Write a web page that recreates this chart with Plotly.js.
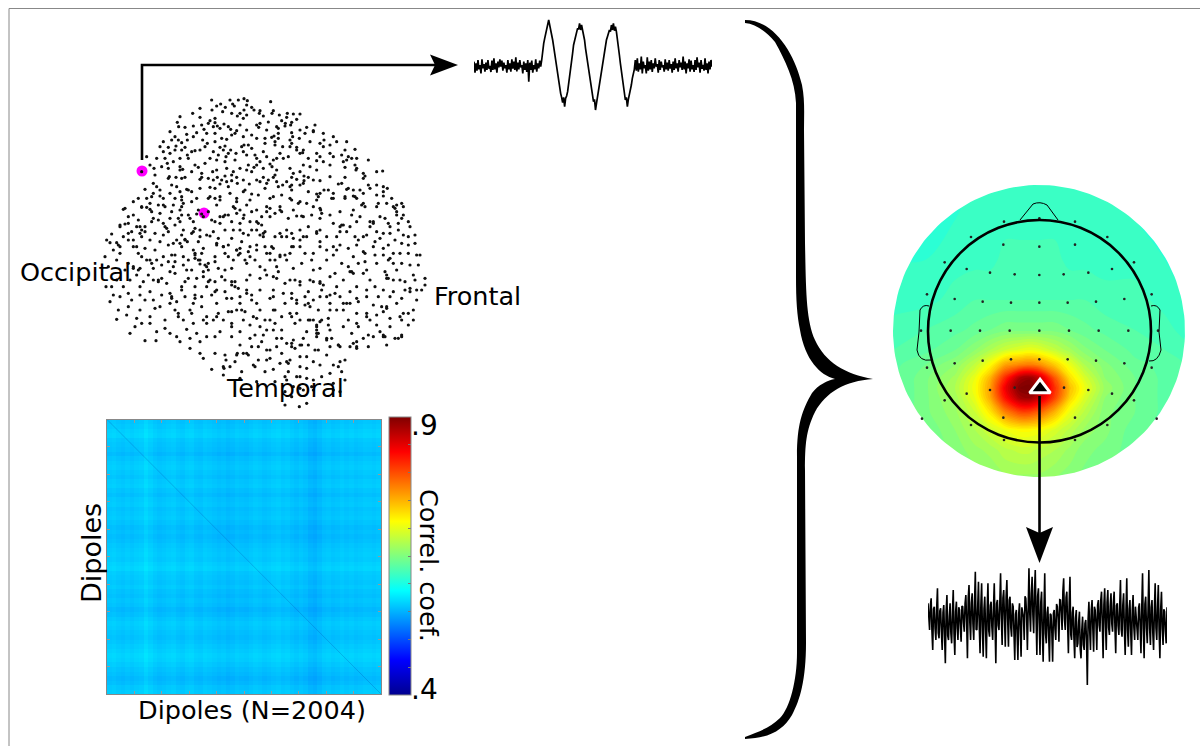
<!DOCTYPE html>
<html><head><meta charset="utf-8">
<script src="https://cdn.plot.ly/plotly-3.0.1.min.js"></script>
<style>html,body{margin:0;padding:0;background:#fff}#c{width:1200px;height:746px}</style>
</head><body><div id="c"></div>
<script>
const dipolePairs = [335,30,415,30,432,26,442,32,512,35,362,42,398,42,403,48,300,55,336,60,368,65,440,45,462,60,480,62,516,70,538,75,562,70,580,72,600,72,278,70,240,80,232,97,300,82,330,92,345,98,420,70,440,75,430,85,470,105,480,100,505,96,530,110,556,100,575,97,645,105,236,110,305,105,340,110,360,115,385,110,410,122,440,120,500,120,535,115,535,130,600,120,640,125,670,130,210,125,260,133,290,128,320,130,345,130,405,130,430,140,470,145,495,145,525,155,570,150,578,140,615,130,700,140,740,155,190,155,215,150,235,150,262,150,280,140,308,150,345,155,365,145,380,148,425,170,445,165,495,160,525,165,570,170,610,180,650,190,670,170,690,165,735,180,765,178,190,185,225,180,245,180,275,185,300,180,340,185,370,180,385,190,430,185,465,195,490,185,540,190,590,180,600,190,650,212,670,215,725,195,745,200,805,210,140,200,170,205,195,205,220,215,240,205,265,205,285,225,315,220,350,210,375,215,405,210,445,225,470,225,510,222,550,205,565,200,610,225,630,230,690,225,730,215,765,225,790,250,830,245,848,243,125,245,162,235,205,235,240,240,255,262,305,250,350,240,380,235,420,235,455,245,490,235,530,240,570,235,600,245,650,240,735,262,770,235,790,265,165,255,205,265,245,265,300,268,340,270,365,270,395,255,430,270,480,275,520,262,560,275,610,280,640,270,715,282,745,295,805,285,850,290,862,295,135,298,160,280,180,300,230,290,265,300,300,295,345,295,385,290,435,300,495,295,535,290,575,300,600,285,660,310,700,310,760,300,810,295,830,315,155,320,190,325,210,310,245,320,275,335,330,320,360,320,410,325,450,330,510,325,570,325,620,340,650,330,695,325,735,320,765,320,850,318,890,345,905,340,75,355,100,335,125,350,150,340,190,345,215,365,245,350,295,360,350,345,400,350,420,360,470,360,500,365,540,350,600,335,660,355,720,365,760,360,785,345,835,340,880,350,70,358,100,375,155,365,210,385,265,375,325,365,375,375,430,385,450,395,500,350,545,365,590,378,635,375,725,405,780,380,810,395,840,380,890,375,910,375,35,432,60,410,85,400,120,410,160,385,195,410,240,395,280,395,310,380,360,400,395,395,420,400,475,400,510,380,565,385,610,380,660,385,700,400,750,410,820,395,870,410,930,410,95,425,135,425,165,430,205,425,245,435,280,425,320,435,355,445,400,420,445,435,490,430,540,430,575,430,620,440,650,425,710,440,765,440,800,435,850,430,885,450,945,435,30,458,55,465,85,450,125,440,180,455,220,460,255,450,295,455,350,465,385,465,425,455,470,465,515,470,560,440,600,470,660,455,720,465,775,450,825,455,905,460,945,460,40,480,100,470,135,475,165,480,215,495,245,470,285,490,310,475,370,470,410,480,445,485,500,490,540,495,575,470,615,490,680,480,745,475,795,490,850,475,880,490,925,490,15,500,60,490,125,500,150,510,190,500,225,515,265,510,300,510,345,515,385,500,420,490,465,510,510,510,560,510,635,510,680,510,700,495,760,500,830,520,870,505,950,495,18,590,100,530,120,535,160,535,185,525,220,530,285,505,320,530,375,540,440,520,495,540,530,530,580,535,640,540,705,550,750,545,800,540,855,545,905,520,955,525,75,540,110,555,145,555,175,570,225,550,260,540,310,560,365,560,405,575,450,555,500,555,530,565,570,570,600,585,660,580,690,560,755,545,810,570,860,565,900,570,940,555,975,565,35,590,70,590,120,590,150,605,185,615,215,620,245,600,285,590,325,575,350,600,395,585,440,610,480,600,520,600,575,610,625,605,665,600,705,610,750,605,800,600,850,600,880,605,930,605,965,600,30,635,60,620,95,630,135,630,160,630,210,640,255,620,280,640,335,615,380,625,420,620,455,630,510,625,555,640,590,630,640,630,680,620,740,640,770,625,820,645,860,650,905,625,950,630,55,660,80,675,120,660,150,680,195,690,235,670,275,670,310,690,350,680,395,665,435,665,470,685,520,660,570,670,615,645,655,660,665,690,710,660,770,670,800,680,850,665,900,680,940,660,50,688,105,710,125,700,150,700,195,715,210,730,260,718,290,730,320,700,395,710,430,690,480,710,525,700,545,720,585,700,625,690,650,730,685,705,730,710,775,710,830,705,870,710,925,705,90,730,135,752,168,752,240,755,270,745,320,740,345,740,395,740,450,745,490,735,530,745,580,750,610,745,650,720,680,745,720,770,755,730,790,745,820,740,850,740,905,740,270,775,300,790,345,790,375,795,412,790,455,770,500,780,530,770,575,770,600,765,645,780,690,770,715,765,770,770,805,770,860,765,885,745,310,805,378,810,440,790,475,810,510,805,560,815,600,800,660,825,700,825,735,810,335,838,372,835,425,845,465,830,520,838,565,845,620,835,720,815,370,855,420,865,470,875,560,870,590,860,620,865,665,860,725,845,735,870,555,905,600,895,635,890,700,880,720,905,555,945,598,950,620,940,575,920];
// Second reading pass, filling the denser clumps
const dipolePairsDense = [350,48,376,52,395,70,412,78,432,60,478,70,520,62,560,82,345,85,325,100,352,108,372,102,392,118,420,105,476,112,555,108,572,105,535,145,522,138,575,128,598,145,640,122,672,150,225,140,245,158,228,168,255,172,285,182,315,170,322,160,360,172,375,168,378,200,355,195,392,180,432,165,440,195,455,175,470,205,500,200,520,210,575,160,590,172,608,188,660,200,690,190,740,210,755,205,210,190,202,220,240,230,248,238,208,260,295,232,305,262,338,245,352,262,375,258,400,245,410,262,440,240,462,232,490,262,516,230,525,255,580,250,590,268,575,262,612,258,625,262,735,232,768,240,795,258,170,290,215,285,240,305,260,298,275,305,330,292,360,282,395,272,412,280,470,270,500,280,530,275,575,285,612,272,650,312,672,300,700,325,740,298,760,318,780,300,850,305,160,310,180,318,245,330,250,340,325,325,345,325,360,330,430,305,410,335,455,312,520,320,570,290,575,330,595,340,655,320,662,360,735,325,770,325,795,350,860,340,890,365,125,352,140,352,150,358,175,345,195,350,220,345,240,360,290,372,305,372,370,380,385,375,405,355,440,345,510,355,540,360,605,378,665,370,755,375,790,340,830,350,885,355,910,350,60,405,75,402,120,430,135,410,155,395,175,390,200,415,245,375,270,385,285,415,300,420,345,395,360,380,410,370,432,375,470,395,485,405,495,425,480,435,490,440,610,440,650,430,720,410,730,405,810,410,820,400,865,400,895,400,905,385,85,430,100,450,125,420,190,400,225,405,250,420,275,430,300,440,330,438,375,420,420,420,430,430,455,420,470,420,545,440,580,445,625,410,660,420,720,425,790,440,840,445,870,430,910,435,50,458,60,470,110,470,205,465,240,460,255,448,262,455,280,480,305,490,350,460,370,470,420,475,470,480,495,470,520,475,600,450,660,470,700,470,710,480,770,465,820,470,865,465,925,465,100,535,115,540,140,510,155,520,225,495,250,500,285,495,295,510,300,522,315,525,325,540,345,500,375,490,400,510,410,480,415,495,435,510,450,500,510,490,540,500,555,495,580,470,640,490,790,485,795,515,850,495,865,510,880,520,900,490,960,495,160,570,175,575,185,565,210,545,265,565,275,540,290,565,310,545,325,520,330,570,320,590,375,570,395,575,405,590,415,595,520,560,535,545,585,570,600,575,630,570,660,575,670,585,710,590,745,530,760,550,790,550,860,555,865,565,880,570,915,575,945,570,210,610,215,625,245,590,285,615,270,660,285,625,345,605,375,605,395,625,440,600,455,615,520,620,575,625,590,640,625,640,660,620,690,615,730,640,750,640,775,635,800,620,860,655,870,620,930,595,950,600,225,660,235,680,305,650,355,670,385,665,410,660,480,660,525,660,575,680,590,670,630,650,640,690,650,710,660,695,690,660,730,660,770,700,800,670,810,690,845,650,905,690,910,670,940,690,320,680,340,690,395,700,425,660,460,680,495,690,500,720,510,690,520,720,630,690,650,705,655,730,650,740,680,750,695,745,715,765,760,760,770,755,770,775,850,735,855,740,895,745,905,735,430,790,445,795,475,770,500,810,510,780,560,760,575,760,585,775,605,765,620,800,640,815,655,780,715,830,370,830,405,815,410,795,460,825,565,820,570,810,555,860,600,860,640,900,580,890,610,900,640,870];
// Third reading pass, remaining gaps
const dipolePairsGaps = [390,30,455,52,490,78,545,92,590,88,620,112,255,112,280,108,312,118,395,135,455,135,515,142,548,170,630,155,660,160,710,155,180,170,205,172,262,195,330,205,408,190,480,215,530,205,625,205,700,200,770,205,150,225,185,230,228,262,275,245,325,265,380,275,448,282,505,270,548,285,660,272,690,260,725,280,830,285,115,325,140,325,225,325,290,325,390,310,475,315,545,315,625,305,685,300,790,310,875,325,85,380,115,390,180,370,235,385,335,390,455,365,485,380,525,370,580,360,640,350,690,375,770,395,855,385,925,395,20,450,70,440,110,410,150,450,190,435,230,450,340,425,395,445,450,470,525,440,560,420,600,420,680,440,740,425,830,425,895,420,925,440,25,530,50,510,85,520,115,490,170,510,205,515,250,525,355,535,395,535,480,530,525,510,570,490,605,520,660,535,725,520,775,520,825,495,890,540,930,525,50,570,90,570,130,575,200,580,255,575,345,575,440,570,480,565,555,580,640,575,730,570,770,590,825,590,915,600,40,615,85,610,120,615,180,650,230,635,305,620,350,640,420,640,470,640,550,610,615,620,690,640,720,620,835,620,890,640,975,585,85,650,110,685,165,655,250,690,280,700,370,690,450,705,545,680,600,690,685,685,745,690,830,675,870,685,925,670,170,725,230,740,300,755,360,725,420,725,465,735,545,745,620,725,690,720,805,735,840,725,420,765,485,755,545,790,625,765,680,795,750,770,390,830,495,845,540,820,600,830,690,850,525,875,700,900];
const magentaDipolesX = [142, 204];
const magentaDipolesY = [171, 213];

// Correlation matrix band levels (one value per 1/60th of the side)
const rowLevels = [.557,.562,.568,.571,.561,.557,.554,.547,.556,.562,.565,.560,.555,.562,.565,.557,.551,.559,.562,.555,.559,.562,.556,.549,.553,.548,.552,.558,.562,.565,.562,.569,.573,.563,.560,.557,.562,.555,.551,.557,.553,.545,.551,.559,.565,.562,.557,.553,.557,.563,.568,.573,.570,.563,.556,.551,.545,.550,.559,.565];
const colLevels = [.562,.565,.560,.557,.562,.558,.563,.566,.577,.568,.560,.555,.558,.562,.565,.558,.555,.562,.565,.557,.555,.562,.559,.555,.551,.554,.548,.551,.557,.554,.552,.557,.562,.559,.554,.557,.562,.565,.559,.562,.556,.551,.557,.552,.543,.539,.547,.556,.559,.554,.557,.562,.557,.561,.556,.559,.563,.562,.559,.563];
const correlTickVals = [.4,.45,.5,.55,.6,.65,.7,.75,.8,.85,.9];

// Scalp map values (percent of the colour range) on a grid of page positions
const mapX = [893,925,955,975,990,1005,1020,1030,1040,1055,1070,1085,1105,1135,1165,1185];
const mapY = [185,220,260,300,330,350,365,378,388,398,412,430,450,478];
const mapZ = [
[42,42,42,42,42,42,42,42,42,42,42,42,42,42,42,42],
[42,42,42,43,43,43,43,43,43,43,43,43,43,42,42,42],
[42,42,43,43,43,44,44,44,44,44,43,43,43,43,42,42],
[43,43,44,45,45,45,45,45,45,45,45,45,44,44,43,42],
[44,45,46,47,48,49,49,49,49,49,48,47,46,45,44,43],
[45,46,48,51,54,57,59,60,59,56,53,50,48,46,45,44],
[46,48,51,56,62,71,74,75,73,67,60,54,50,47,46,45],
[46,49,53,60,69,83,95,97,92,78,65,58,51,48,46,45],
[46,49,54,61,71,88,99,100,95,82,68,60,52,48,46,45],
[46,49,53,60,70,85,95,96,91,80,66,58,51,48,46,45],
[46,49,52,57,64,74,80,80,77,69,60,55,50,48,46,45],
[46,48,51,54,57,60,62,62,61,58,55,52,50,47,46,45],
[46,48,50,52,53,55,56,56,55,54,52,50,49,47,46,45],
[46,47,49,50,51,52,52,52,52,51,50,49,48,47,46,45]];
const sensorX = [372,478,585,273,682,370,585,478,194,762,260,696,330,625,404,551,478,141,815,224,733,308,648,393,563,478,123,212,300,389,478,567,656,745,834,308,393,478,563,648,224,733,141,815,404,552,330,625,260,696,194,762,370,585,126,830,273,682,372,585];
const sensorY = [140,130,140,186,186,209,209,215,262,262,282,282,293,293,298,298,300,358,358,372,372,380,380,383,383,383,467,467,467,467,467,467,467,467,467,557,553,553,553,557,565,565,578,578,638,638,645,645,656,656,676,676,728,728,731,731,750,750,795,795];
const sourceX = [480];
const sourceY = [640];

// Source time course (upper signal)
const sourceSignal = [155,188,160,182,150,178,165,190,148,175,162,185,158,180,150,176,168,186,152,180,145,178,160,188,155,172,148,170,152,182,158,175,165,188,150,178,160,185,148,176,155,180,142,184,158,178,150,172,165,190,155,180,160,186,150,215,158,180,152,188,165,178,148,185,160,175,152,170,
150,120,100,85,72,65,48,30,45,58,75,90,110,130,155,175,198,215,238,250,262,278,262,290,265,258,245,225,205,180,155,130,105,90,80,65,55,58,40,60,45,60,72,90,115,135,160,180,200,222,240,255,275,268,300,280,260,240,225,205,185,165,145,125,105,90,80,70,60,65,45,60,40,62,50,65,85,110,135,160,185,210,235,255,270,262,290,268,255,240,225,205,190,178,150,182,
145,185,160,178,140,190,155,175,165,190,142,182,155,178,150,186,160,175,145,170,162,188,150,180,155,172,165,185,148,178,158,182,150,176,162,188,155,180,145,175,160,185,150,172,158,180,140,178,155,190,160,175,148,185,152,178,165,186,150,180,142,172,158,188,150,176,165,182,145,180,160,190,155,178,150,170];

// Sensor signal (lower trace): upper and lower reach, the centre of the dense core, and the core's reach around it
const sensorHigh = [130,115,140,85,145,135,105,130,90,125,150,140,105,75,100,35,65,70,110,70,125,70,120,40,90,60,110,140,150,130,155,115,25,50,30,85,95,40,140,165,150,140,120,55,95,50,140,150,155,170,180,125,120,150,120,95,85,90,100,95,130,60,100,55,120,105,170,130,40,110,30,120,70,75,95,155];
const sensorLow = [210,270,240,235,270,310,240,250,285,240,245,215,295,240,240,210,280,290,295,230,240,310,210,255,260,260,230,300,300,290,240,270,215,220,285,285,305,250,305,305,240,245,210,210,280,240,295,250,295,270,375,270,275,270,215,295,270,225,215,280,225,230,285,260,285,240,240,280,295,250,255,270,240,295,255,250];
const sensorCore = [170,175,180,185,188,192,195,190,183,178,170,160,152,155,162,170,173,178,180,175,170,165,158,150,142,150,168,188,195,170,145,132,130,130,135,160,182,195,193,190,170,145,128,140,165,190,205,225,235,225,205,185,172,165,160,160,162,165,165,168,170,172,178,180,178,176,175,172,170,172,176,180,178,180,178,180];
const coreReach = [30,38,26,34,28,36,32];

const W = 1200, H = 746;
const jet = [[0,'#00008f'],[.125,'#0000ff'],[.375,'#00ffff'],[.625,'#ffff00'],[.875,'#ff0000'],[1,'#800000']];
const font = {family:'DejaVu Sans, sans-serif',size:25.5,color:'#000'};
const domX = (a,b)=>[a/W,b/W];
const domY = (a,b)=>[(H-b)/H,(H-a)/H];

const allPairs = dipolePairs.concat(dipolePairsDense, dipolePairsGaps);
const dipX=[],dipY=[];
for(let i=0;i<allPairs.length;i+=2){dipX.push(allPairs[i]);dipY.push(allPairs[i+1]);}

const N=2004, bins=rowLevels.length;
const cells=[...Array(bins).keys()].map(i=>(i+.5)*N/bins);
const zCorr=rowLevels.map(r=>colLevels.map(c=>(r+c)/2));

const zigX=[],zigY=[];
sensorHigh.forEach((h,i)=>{
  const r=coreReach[i%coreReach.length], s=coreReach[(i+3)%coreReach.length];
  zigX.push(i,i+.25,i+.5,i+.75);
  zigY.push(h,sensorCore[i]+r,sensorLow[i],sensorCore[i]-s);
});

// White surround that trims the map to its disc
const cx=1039,cy=331,R=146,ringX=[890,1188,1188,890,890,cx-R],ringY=[182,182,481,481,cy,cy];
for(let a=0;a<=360;a+=2){ringX.push(cx-R*Math.cos(a*Math.PI/180));ringY.push(cy+R*Math.sin(a*Math.PI/180));}
ringX.push(890);ringY.push(cy);

const traces=[
 {type:'contour',x:mapX,y:mapY,z:mapZ,xaxis:'x',yaxis:'y',colorscale:jet,zmin:0,zmax:100,autocontour:false,
  contours:{start:0,end:100,size:1.5,coloring:'fill',showlines:false},line:{width:0,smoothing:1},showscale:false,hoverinfo:'skip'},
 {type:'scatter',mode:'lines',x:ringX,y:ringY,xaxis:'x',yaxis:'y',fill:'toself',fillcolor:'#fff',line:{width:0},hoverinfo:'skip'},
 {type:'heatmap',x:cells,y:cells,z:zCorr,xaxis:'x2',yaxis:'y2',colorscale:jet,zmin:.4,zmax:.9,
  colorbar:{x:389/W,xanchor:'left',xpad:0,y:(H-417)/H,yanchor:'top',ypad:0,lenmode:'pixels',len:278,thicknessmode:'pixels',thickness:22,
   outlinecolor:'#888',outlinewidth:1,tickmode:'array',tickvals:correlTickVals,ticktext:correlTickVals.map(()=>''),ticks:'inside',ticklen:3,tickcolor:'#777',tickwidth:1}},
 {type:'scatter',mode:'lines',x:[0,N],y:[0,N],xaxis:'x2',yaxis:'y2',line:{color:'rgba(0,50,150,.3)',width:.7},hoverinfo:'skip'},
 {type:'scatter',mode:'markers',x:magentaDipolesX,y:magentaDipolesY,xaxis:'x',yaxis:'y',marker:{size:11,color:'#ff00ff'},hoverinfo:'skip'},
 {type:'scatter',mode:'markers',x:dipX,y:dipY,xaxis:'x3',yaxis:'y3',marker:{size:3.2,color:'#111'},hoverinfo:'skip'},
 {type:'scatter',mode:'markers',x:sensorX,y:sensorY,xaxis:'x4',yaxis:'y4',marker:{size:2.6,color:'#222'},hoverinfo:'skip'},
 {type:'scatter',mode:'markers',x:sourceX,y:sourceY,xaxis:'x4',yaxis:'y4',marker:{symbol:'triangle-up',size:18,color:'#000',line:{color:'#fff',width:3}},hoverinfo:'skip'},
 {type:'scatter',mode:'lines',y:sourceSignal,xaxis:'x5',yaxis:'y5',line:{color:'#000',width:1.7},hoverinfo:'skip'},
 {type:'scatter',mode:'lines',x:zigX,y:zigY,xaxis:'x6',yaxis:'y6',line:{color:'#000',width:1.6},hoverinfo:'skip'}
];

const hidden=o=>Object.assign({visible:false,fixedrange:true},o);
const px=(d)=>({xref:'x',yref:'y',type:'path',path:d,fillcolor:'#000',line:{width:0}});
const stroke=(d,w,c)=>({xref:'x',yref:'y',type:'path',path:d,line:{color:c||'#000',width:w}});
const T=(text,x,y,extra)=>Object.assign({text,x,y,xref:'x',yref:'y',showarrow:false,font},extra||{});

const layout={
 width:W,height:H,margin:{l:0,r:0,t:0,b:0},paper_bgcolor:'#fff',plot_bgcolor:'rgba(0,0,0,0)',showlegend:false,
 xaxis:hidden({domain:[0,1],range:[0,W]}),
 yaxis:hidden({domain:[0,1],range:[H,0]}),
 xaxis2:{domain:domX(107,381),range:[0,N],anchor:'y2',showticklabels:false,ticks:'inside',ticklen:3,tickcolor:'#999',dtick:200.4,tick0:0,showgrid:false,zeroline:false,mirror:'ticks',showline:true,linecolor:'#888',linewidth:1,fixedrange:true},
 yaxis2:{domain:domY(419.5,694),range:[N,0],anchor:'x2',showticklabels:false,ticks:'inside',ticklen:3,tickcolor:'#999',dtick:200.4,tick0:0,showgrid:false,zeroline:false,mirror:'ticks',showline:true,linecolor:'#888',linewidth:1,fixedrange:true},
 xaxis3:hidden({domain:domX(100,440),range:[0,1020],anchor:'y3'}),
 yaxis3:hidden({domain:domY(90,410),range:[960,0],anchor:'x3'}),
 xaxis4:hidden({domain:domX(880,1200),range:[0,960],anchor:'y4'}),
 yaxis4:hidden({domain:domY(175,455),range:[840,0],anchor:'x4'}),
 xaxis5:hidden({domain:domX(474,712),range:[0,sourceSignal.length-1],anchor:'y5'}),
 yaxis5:hidden({domain:domY(10,120),range:[330,0],anchor:'x5'}),
 xaxis6:hidden({domain:domX(928,1167),range:[0,sensorHigh.length-.25],anchor:'y6'}),
 yaxis6:hidden({domain:domY(560,690),range:[390,0],anchor:'x6'}),
 shapes:[
  {type:'path',xref:'x',yref:'y',path:'M9,746 L9,8.5 L1200,8.5',line:{color:'#888',width:1}},
  stroke('M142,160 L142,65 L436,65',2.6),
  px('M458,65 L430,54.5 L435,65 L430,75.5 Z'),
  stroke('M1039.5,396 L1039.5,536',2.6),
  px('M1039.5,563 L1026,527 L1039.5,533 L1053,527 Z'),
  px('M745,20 C775,20 795,55 802,85 C805,100 804,115 804,130 L805,243 C806,290 806,320 815,340 C825,362 845,374 873,379 C845,381 826,392 815,412 C806,430 805,445 805,470 L806,643 C806,680 800,700 792,715 C783,730 770,738 745,739 L745,737 C760,731 770,728 780,718 C790,708 797,680 797,653 L797,456 C797,425 802,410 812,393 C818,385 828,380 835,379 C820,375 805,360 800,330 C797,315 796,300 796,277 L796,103 C795,80 785,60 775,42 C765,30 755,24 745,23 Z'),
  {type:'circle',xref:'x',yref:'y',x0:928,x1:1151,y0:220,y1:442.5,line:{color:'#000',width:2.6}},
  stroke('M1020,220 L1033,204 Q1040,201 1047,205 L1058,220',1),
  stroke('M929,306 Q923,304 920,310 L919,332 L917,350 Q919,362 931,360',1),
  stroke('M1151,306 Q1157,304 1160,310 L1159,332 L1161,350 Q1158,362 1149,361',1)
 ],
 annotations:[
  T('Occipital',75,272),T('Frontal',477.5,296),T('Temporal',285,388),
  T('Dipoles (N=2004)',252,710),
  T('Dipoles',91,553,{textangle:-90,font:Object.assign({},font,{size:27})}),
  T('.9',424,425,{font:Object.assign({},font,{size:28})}),T('.4',424,689,{font:Object.assign({},font,{size:28})}),
  T('Correl. coef.',429,565,{textangle:90})
 ]
};
Plotly.newPlot('c',traces,layout,{staticPlot:true,displayModeBar:false});
</script></body></html>
